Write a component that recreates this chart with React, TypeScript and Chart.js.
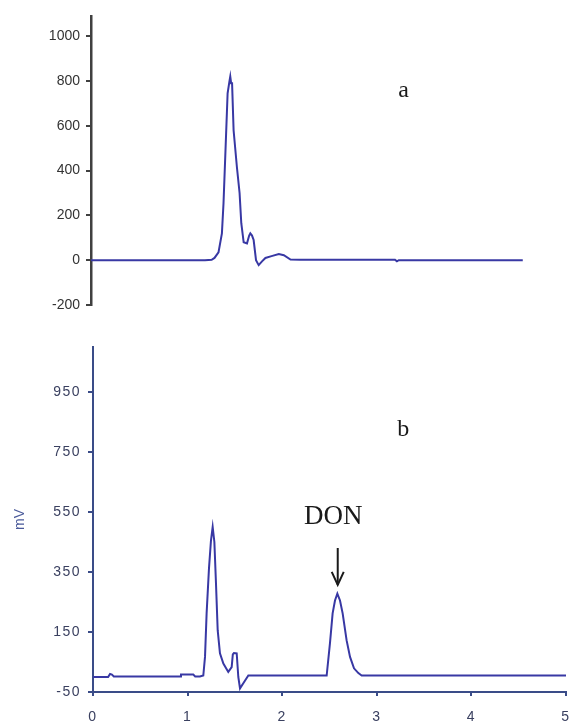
import React, { useEffect, useRef } from 'react';
import { Chart, registerables } from 'chart.js';

Chart.register(...registerables);

// ---- data ----
const topTimes = [0, 1.2, 1.27, 1.3, 1.342, 1.378, 1.395, 1.413, 1.438, 1.458, 1.466, 1.475, 1.485, 1.501, 1.536, 1.564, 1.582, 1.607, 1.642, 1.665, 1.677, 1.695, 1.712, 1.737, 1.765, 1.8, 1.836, 1.9, 1.977, 2.03, 2.1, 2.2, 3.2, 3.22, 3.24, 4.545];
const topSignal = [0, 0, 2, 10, 35, 120, 255, 460, 745, 800, 820, 790, 790, 580, 415, 300, 165, 80, 75, 110, 120, 110, 90, 0, -22, -5, 10, 18, 27, 22, 3, 2, 2, -5, 0, 0];

const bottomTimes = [0, 0.16, 0.18, 0.2, 0.22, 0.92, 0.93, 1.06, 1.08, 1.13, 1.166, 1.184, 1.201, 1.226, 1.247, 1.265, 1.283, 1.3, 1.318, 1.342, 1.378, 1.43, 1.466, 1.478, 1.49, 1.519, 1.536, 1.554, 1.589, 1.642, 2.47, 2.505, 2.533, 2.558, 2.583, 2.611, 2.639, 2.681, 2.717, 2.759, 2.805, 2.84, 5.02];
const bottomSignal = [0, 0, 10, 8, 2, 2, 8, 8, 2, 2, 5, 67, 212, 362, 455, 500, 450, 312, 156, 79, 45, 17, 33, 75, 80, 79, 0, -38, -21, 5, 5, 113, 212, 255, 278, 255, 212, 122, 67, 29, 13, 5, 5];

const topYTicks = [-200, 0, 200, 400, 600, 800, 1000];
const bottomYTicks = [-50, 150, 350, 550, 750, 950];
const xTicks = [0, 1, 2, 3, 4, 5];

const panelLabels = ['a', 'b'];
const yTitle = 'mV';
const peakName = 'DON';
const peakTime = 2.587;

const LINE_COLOR = '#3838a4';
const W = 572;
const H = 724;

function annotationPlugin(kind: 'top' | 'bottom') {
  return {
    id: 'annot_' + kind,
    beforeDraw(chart: any) {
      chart.ctx.letterSpacing = kind === 'bottom' ? '1.5px' : '0px';
    },
    afterDatasetsDraw(chart: any) {
      const ctx = chart.ctx;
      const xs = chart.scales.x;
      const ys = chart.scales.y;
      ctx.save();
      ctx.letterSpacing = '0px';
      ctx.fillStyle = '#1a1a1a';
      ctx.textAlign = 'center';
      ctx.textBaseline = 'middle';
      ctx.font = '24px "Liberation Serif", "Times New Roman", serif';
      if (kind === 'top') {
        ctx.fillText(panelLabels[0], xs.getPixelForValue(3.29), ys.getPixelForValue(758));
      } else {
        ctx.fillText(panelLabels[1], xs.getPixelForValue(3.28), ys.getPixelForValue(823));
        ctx.font = '27px "Liberation Serif", "Times New Roman", serif';
        ctx.fillText(peakName, xs.getPixelForValue(2.54), ys.getPixelForValue(533));
        const ax = xs.getPixelForValue(peakTime);
        const y0 = ys.getPixelForValue(430);
        const y1 = ys.getPixelForValue(307);
        ctx.strokeStyle = '#1a1a1a';
        ctx.lineWidth = 2;
        ctx.beginPath();
        ctx.moveTo(ax, y0);
        ctx.lineTo(ax, y1);
        ctx.stroke();
        ctx.beginPath();
        ctx.moveTo(ax - 6, y1 - 13);
        ctx.lineTo(ax, y1);
        ctx.lineTo(ax + 6, y1 - 13);
        ctx.stroke();
        // y-axis title
        ctx.save();
        ctx.translate(20, (ys.top + ys.bottom) / 2);
        ctx.rotate(-Math.PI / 2);
        ctx.fillStyle = '#4a5a9a';
        ctx.font = '14px "Liberation Sans", Arial, sans-serif';
        ctx.fillText(yTitle, 0, 0);
        ctx.restore();
      }
      ctx.restore();
    },
  };
}

export default function App() {
  const topRef = useRef<HTMLCanvasElement>(null);
  const botRef = useRef<HTMLCanvasElement>(null);

  useEffect(() => {
    const font = { family: '"Liberation Sans", Arial, sans-serif', size: 14 };
    const plain = (v: any) => String(v);

    const top = new Chart(topRef.current as HTMLCanvasElement, {
      type: 'line',
      data: {
        datasets: [
          {
            data: topTimes.map((t, i) => ({ x: t, y: topSignal[i] })),
            borderColor: LINE_COLOR,
            borderWidth: 2,
            pointRadius: 0,
            tension: 0,
            fill: false,
          },
        ],
      },
      options: {
        responsive: false,
        animation: false,
        events: [],
        layout: { padding: { top: 16, bottom: H - 305, left: 0, right: 6 } },
        plugins: { legend: { display: false }, tooltip: { enabled: false } },
        scales: {
          x: { type: 'linear', min: 0, max: 5, display: false },
          y: {
            type: 'linear',
            min: -200,
            max: 1090,
            afterBuildTicks: (s: any) => {
              s.ticks = topYTicks.map((v) => ({ value: v }));
            },
            afterFit: (s: any) => {
              s.width = 91;
              s.paddingTop = 0;
              s.paddingBottom = 0;
            },
            grid: { drawOnChartArea: false, tickLength: 5, color: '#404040', lineWidth: 2 },
            border: { display: true, color: '#404040', width: 2.5 },
            ticks: { font, color: '#333333', padding: 6, callback: plain },
          },
        },
      },
      plugins: [annotationPlugin('top')],
    } as any);

    const axisBlue = '#3a4c88';
    const bottom = new Chart(botRef.current as HTMLCanvasElement, {
      type: 'line',
      data: {
        datasets: [
          {
            data: bottomTimes.map((t, i) => ({ x: t, y: bottomSignal[i] })),
            borderColor: LINE_COLOR,
            borderWidth: 2,
            pointRadius: 0,
            tension: 0,
            fill: false,
          },
        ],
      },
      options: {
        responsive: false,
        animation: false,
        events: [],
        layout: { padding: { top: 347, bottom: 0, left: 0, right: 6 } },
        plugins: { legend: { display: false }, tooltip: { enabled: false } },
        scales: {
          x: {
            type: 'linear',
            min: 0,
            max: 5,
            afterBuildTicks: (s: any) => {
              s.ticks = xTicks.map((v) => ({ value: v }));
            },
            afterFit: (s: any) => {
              s.height = H - 692;
              s.paddingLeft = 0;
              s.paddingRight = 0;
            },
            grid: { drawOnChartArea: false, tickLength: 4, color: axisBlue, lineWidth: 2 },
            border: { display: true, color: axisBlue, width: 2 },
            ticks: { font: { ...font, size: 14 }, color: '#3a4060', padding: 13, callback: plain },
          },
          y: {
            type: 'linear',
            min: -50,
            max: 1100,
            afterBuildTicks: (s: any) => {
              s.ticks = bottomYTicks.map((v) => ({ value: v }));
            },
            afterFit: (s: any) => {
              s.width = 93;
              s.paddingTop = 0;
              s.paddingBottom = 0;
            },
            grid: { drawOnChartArea: false, tickLength: 5, color: axisBlue, lineWidth: 2 },
            border: { display: true, color: axisBlue, width: 2 },
            ticks: { font: { ...font, size: 14 }, color: '#3a4060', padding: 7, callback: plain },
          },
        },
      },
      plugins: [annotationPlugin('bottom')],
    } as any);

    return () => {
      top.destroy();
      bottom.destroy();
    };
  }, []);

  const cstyle: React.CSSProperties = { position: 'absolute', left: 0, top: 0, width: W, height: H };
  return (
    <div style={{ position: 'absolute', left: 0, top: 0, width: W, height: H, background: '#ffffff' }}>
      <canvas ref={topRef} width={W} height={H} style={cstyle} />
      <canvas ref={botRef} width={W} height={H} style={cstyle} />
    </div>
  );
}
